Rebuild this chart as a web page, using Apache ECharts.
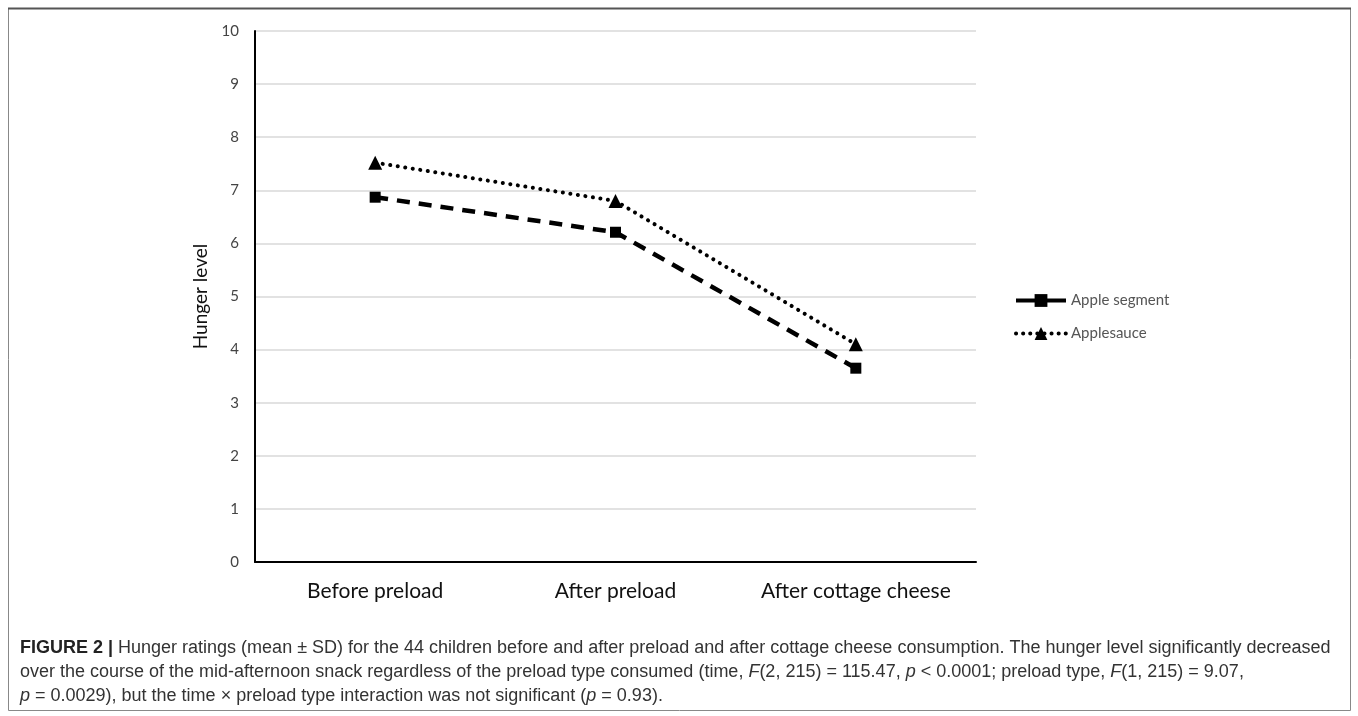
<!DOCTYPE html>
<html>
<head>
<meta charset="utf-8">
<script src="https://cdn.jsdelivr.net/npm/echarts@6/dist/echarts.min.js"></script>
<style>
html,body{margin:0;padding:0;background:#fff;}
#chart{width:1358px;height:716px;}
</style>
</head>
<body>
<div id="chart"></div>
<script>
const categories = ['Before preload', 'After preload', 'After cottage cheese'];
const appleSegment = [6.87, 6.21, 3.65];
const applesauce = [7.52, 6.80, 4.10];
const seriesNames = ['Apple segment', 'Applesauce'];
const yTicks = { min: 0, max: 10, interval: 1 };
const yAxisTitle = 'Hunger level';
const captionLines = [
  '{b|FIGURE 2 |} Hunger ratings (mean ± SD) for the 44 children before and after preload and after cottage cheese consumption. The hunger level significantly decreased',
  'over the course of the mid-afternoon snack regardless of the preload type consumed (time, {i|F}(2, 215) = 115.47, {i|p} < 0.0001; preload type, {i|F}(1, 215) = 9.07,',
  '{i|p} = 0.0029), but the time × preload type interaction was not significant ({i|p} = 0.93).'
];

const chart = echarts.init(document.getElementById('chart'), null, { renderer: 'canvas' });
const capFont = 'Liberation Sans, Arial, sans-serif';
const capSize = 18;
const capRich = {
  b: { fontWeight: 'bold', fontFamily: capFont, fontSize: capSize, fill: '#222' },
  i: { fontStyle: 'italic', fontFamily: capFont, fontSize: capSize, fill: '#333' }
};
const captionGraphics = captionLines.map((t, k) => ({
  type: 'text',
  left: 20,
  top: 639 + k * 24,
  style: { text: t, rich: capRich, fontFamily: capFont, fontSize: capSize, fill: '#333' }
}));

chart.setOption({
  animation: false,
  backgroundColor: '#fff',
  grid: { left: 255, right: 382, top: 31, bottom: 154, containLabel: false },
  xAxis: {
    type: 'category',
    data: categories,
    boundaryGap: true,
    axisLine: { lineStyle: { color: '#000', width: 2 } },
    axisTick: { show: false },
    axisLabel: { interval: 0, color: '#111', fontSize: 21, fontFamily: 'Lato, sans-serif', margin: 19 },
    splitLine: { show: false }
  },
  yAxis: {
    type: 'value',
    min: yTicks.min, max: yTicks.max, interval: yTicks.interval,
    name: yAxisTitle,
    nameLocation: 'middle',
    nameGap: 41,
    nameRotate: 90,
    nameTextStyle: { color: '#111', fontSize: 19, fontFamily: 'Lato, sans-serif' },
    axisLine: { show: true, lineStyle: { color: '#000', width: 2 } },
    axisTick: { show: false },
    axisLabel: { color: '#444', fontSize: 15, fontFamily: 'Lato, sans-serif', margin: 16 },
    splitLine: { lineStyle: { color: '#d9d9d9', width: 1.5 } }
  },
  legend: {
    orient: 'vertical',
    left: 1009,
    top: 288,
    itemGap: 18,
    itemWidth: 50,
    itemHeight: 16,
    textStyle: { color: '#555', fontSize: 15, fontFamily: 'Lato, sans-serif' },
    data: [
      { name: seriesNames[0], lineStyle: { width: 4, type: 'solid' } },
      { name: seriesNames[1], lineStyle: { width: 4, type: [0.1, 7], cap: 'round' } }
    ]
  },
  series: [
    {
      name: seriesNames[0],
      type: 'line',
      data: appleSegment,
      symbol: 'rect',
      symbolSize: 11,
      itemStyle: { color: '#000' },
      lineStyle: { color: '#000', width: 4.5, type: [13, 9] }
    },
    {
      name: seriesNames[1],
      type: 'line',
      data: applesauce,
      symbol: 'triangle',
      symbolSize: 14,
      itemStyle: { color: '#000' },
      lineStyle: { color: '#000', width: 4, type: [0.1, 7.5], cap: 'round' }
    }
  ],
  graphic: [
    { type: 'rect', shape: { x: 8.5, y: 8.5, width: 1342, height: 702 }, style: { fill: 'none', stroke: '#888', lineWidth: 1 }, silent: true },
    { type: 'line', shape: { x1: 8, y1: 8.5, x2: 1351, y2: 8.5 }, style: { stroke: '#555', lineWidth: 2 }, silent: true },
    ...captionGraphics
  ]
});
</script>
</body>
</html>
